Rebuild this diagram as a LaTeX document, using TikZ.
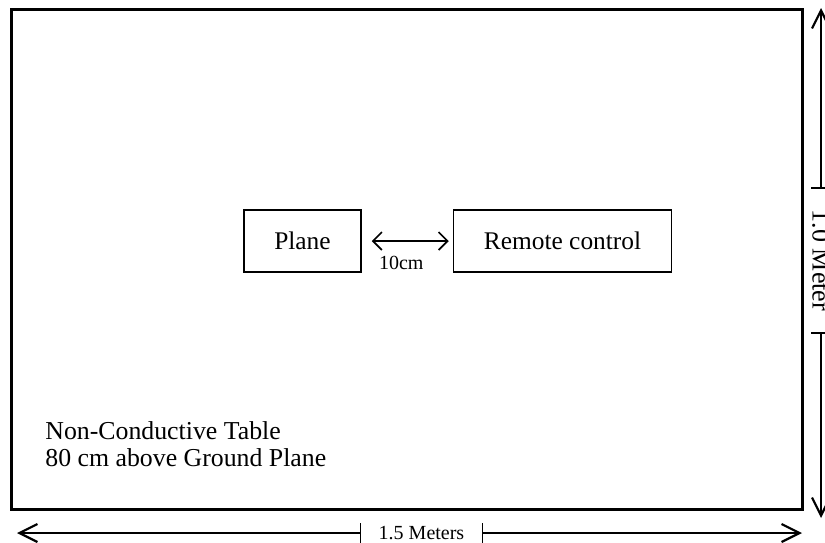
\documentclass[tikz,border=0pt]{standalone}
\usepackage{fontspec}
\setmainfont{Liberation Serif}
\usepackage{tikz}
\usetikzlibrary{arrows.meta}
\usetikzlibrary{positioning}

\tikzset{
  unitbox/.style={draw, line width=0.75pt, minimum height=31pt, inner sep=0pt,
    font=\fontsize{12.7}{15}\selectfont},
  dimline/.style={line width=0.75pt},
  barb/.tip={Straight Barb[length=9pt, width=9pt, line width=1.1pt]},
  tick/.tip={Bar[width=10pt, line width=0.6pt]}
}

\begin{document}
\begin{tikzpicture}[x=0.5pt, y=-0.5pt]
  \useasboundingbox (0,0) rectangle (825,542);
  % table top
  \draw[line width=1.5pt] (11,9) rectangle (802,509);

  \node[unitbox, minimum width=58.5pt] (plane) at (302.5,241) {Plane};
  \node[unitbox, minimum width=109pt, right=45.5pt of plane] (remote) {Remote control};
  \draw[dimline, {Straight Barb[length=4.5pt, width=9pt, line width=0.8pt]}-{Straight Barb[length=4.5pt, width=9pt, line width=0.8pt]},
    shorten <=5pt, shorten >=2pt] (plane) -- node[below=4pt, xshift=-3pt, font=\fontsize{10}{12}\selectfont] (gap) {10cm} (remote);

  \node[anchor=north west, align=left, inner sep=0pt, font=\fontsize{12.9}{13.5}\selectfont] (note) at (45,421)
    {Non-Conductive Table\\80 cm above Ground Plane};

  % width
  \node[font=\fontsize{10}{12}\selectfont, inner xsep=8.6pt] (wlabel) at (421.5,533) {1.5 Meters};
  \coordinate (wleft) at (17,533);
  \coordinate (wright) at (802,533);
  \draw[dimline, {tick}-{barb}] (wlabel.west) -- (wleft);
  \draw[dimline, {tick}-{barb}] (wlabel.east) -- (wright);

  % depth
  \node[font=\fontsize{13}{15}\selectfont, rotate=-90, inner xsep=10.5pt] (dlabel) at (821,260.5) {1.0 Meter};
  \coordinate (dtop) at (821,8);
  \coordinate (dbottom) at (821,518);
  \draw[dimline, {tick}-{barb}] (dlabel.west) -- (dtop);
  \draw[dimline, {tick}-{barb}] (dlabel.east) -- (dbottom);
\end{tikzpicture}
\end{document}
